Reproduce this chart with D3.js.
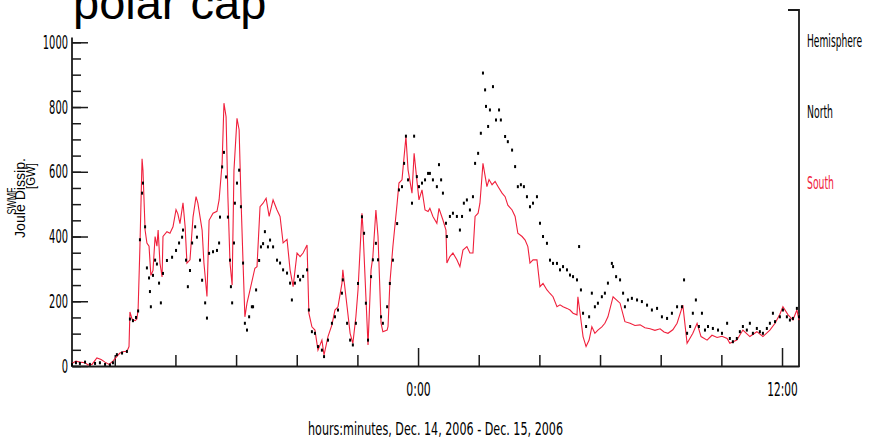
<!DOCTYPE html>
<html><head><meta charset="utf-8">
<script src="https://cdn.jsdelivr.net/npm/d3@7"></script>
<style>
html,body{margin:0;padding:0;background:#fff;}
svg{display:block;}
</style></head><body>
<svg id="chart" width="869" height="441"></svg>
<script>
// Hours since 2006-12-14 00:00 UT, and Joule dissipation [GW]
const southHours = [12.59,12.72,12.85,13.02,13.12,13.25,13.41,13.55,13.68,13.81,13.94,14.07,14.17,14.30,14.40,14.47,14.50,14.57,14.67,14.73,14.77,14.83,14.90,14.93,15.00,15.06,15.13,15.19,15.26,15.33,15.39,15.43,15.49,15.56,15.59,15.72,15.82,15.92,16.02,16.08,16.15,16.25,16.32,16.38,16.48,16.58,16.68,16.74,16.88,16.94,17.04,17.11,17.24,17.37,17.44,17.54,17.60,17.67,17.73,17.80,17.87,17.93,18.03,18.10,18.16,18.23,18.29,18.36,18.46,18.62,18.69,18.79,18.89,18.99,19.09,19.22,19.35,19.45,19.55,19.68,19.78,19.88,20.01,20.11,20.21,20.34,20.40,20.50,20.60,20.70,20.83,20.90,21.03,21.16,21.26,21.36,21.49,21.52,21.66,21.76,21.85,21.95,22.02,22.15,22.18,22.28,22.35,22.45,22.51,22.61,22.68,22.78,22.84,22.98,23.01,23.07,23.17,23.31,23.37,23.47,23.54,23.60,23.67,23.80,23.87,23.96,24.03,24.13,24.23,24.33,24.39,24.49,24.62,24.69,24.82,24.92,24.95,25.05,25.15,25.28,25.38,25.48,25.61,25.71,25.81,25.88,25.98,26.04,26.14,26.27,26.34,26.44,26.54,26.64,26.77,26.87,26.96,27.10,27.20,27.29,27.43,27.53,27.62,27.69,27.79,27.92,28.02,28.12,28.25,28.35,28.45,28.58,28.68,28.78,28.91,29.01,29.11,29.24,29.27,29.37,29.44,29.54,29.64,29.73,29.83,29.93,30.06,30.16,30.26,30.43,30.66,30.82,30.99,31.15,31.32,31.48,31.65,31.81,31.98,32.11,32.24,32.40,32.54,32.73,32.87,33.06,33.20,33.33,33.53,33.69,33.86,34.02,34.19,34.28,34.51,34.71,34.94,35.17,35.37,35.60,35.77,35.93,36.03,36.20,36.36,36.49,36.56];
const southGW = [8,15,12,10,3,5,25,20,12,5,15,30,40,45,45,60,167,145,140,145,175,370,640,605,420,380,370,280,295,400,370,420,318,275,400,415,410,430,483,470,440,504,430,318,328,460,523,503,420,318,215,450,472,478,513,627,812,770,523,318,250,605,765,730,523,318,152,194,235,302,307,492,503,518,462,513,482,462,380,391,297,245,349,338,349,374,163,121,111,49,80,34,91,127,173,183,255,297,183,101,70,152,235,472,430,214,65,297,338,482,400,132,106,111,122,255,369,503,565,575,647,708,606,534,657,575,513,544,482,477,487,462,441,487,451,420,318,338,349,328,307,358,369,349,349,462,472,503,626,554,576,560,570,554,534,523,497,482,462,410,400,389,369,318,328,328,245,255,235,224,214,183,189,183,178,173,163,158,214,142,91,60,80,121,101,111,121,132,152,214,194,137,132,125,127,118,115,110,115,105,101,112,132,188,70,101,132,91,80,95,88,92,85,70,80,111,91,106,91,111,132,160,183,158,142,173,142];
const northHours = [12.59,12.72,12.85,13.02,13.18,13.35,13.51,13.68,13.84,13.94,14.07,14.24,14.40,14.50,14.60,14.70,14.77,14.83,14.90,14.93,15.00,15.06,15.13,15.16,15.19,15.26,15.33,15.39,15.46,15.52,15.59,15.72,15.89,16.02,16.12,16.22,16.25,16.35,16.41,16.48,16.55,16.65,16.71,16.81,16.88,16.98,17.04,17.11,17.24,17.37,17.44,17.47,17.54,17.60,17.67,17.73,17.80,17.83,17.87,17.93,17.96,18.03,18.10,18.16,18.23,18.29,18.36,18.43,18.52,18.56,18.66,18.76,18.82,18.89,18.95,19.05,19.12,19.22,19.35,19.45,19.55,19.68,19.78,19.84,19.94,20.04,20.11,20.21,20.34,20.40,20.50,20.60,20.70,20.83,20.90,21.03,21.16,21.26,21.36,21.49,21.52,21.66,21.76,21.85,21.95,22.02,22.15,22.22,22.28,22.35,22.45,22.51,22.61,22.68,22.78,22.84,22.98,23.07,23.17,23.31,23.37,23.47,23.54,23.60,23.67,23.80,23.87,23.96,24.03,24.13,24.23,24.33,24.39,24.49,24.62,24.69,24.76,24.82,24.92,24.95,25.05,25.15,25.28,25.38,25.45,25.51,25.61,25.71,25.81,25.88,25.98,26.07,26.14,26.21,26.24,26.31,26.37,26.47,26.57,26.67,26.73,26.87,26.96,27.10,27.20,27.29,27.39,27.49,27.59,27.69,27.79,27.92,28.02,28.12,28.25,28.35,28.45,28.58,28.68,28.78,28.91,29.01,29.11,29.24,29.31,29.37,29.44,29.54,29.64,29.73,29.83,29.93,30.06,30.16,30.26,30.39,30.43,30.53,30.66,30.76,30.82,30.92,31.05,31.22,31.38,31.55,31.71,31.88,32.04,32.21,32.37,32.54,32.70,32.77,32.87,32.97,33.06,33.16,33.26,33.36,33.46,33.56,33.72,33.89,34.02,34.19,34.28,34.38,34.51,34.61,34.71,34.84,34.94,35.04,35.17,35.27,35.37,35.50,35.60,35.70,35.77,35.93,36.03,36.16,36.26,36.36,36.49,36.56];
const northGW = [5,10,8,12,5,8,10,5,3,10,35,40,45,145,140,150,170,390,534,565,430,303,272,230,183,280,327,315,256,195,286,326,336,357,380,398,420,327,245,295,380,430,398,327,265,195,148,348,353,357,380,460,615,660,584,460,327,245,195,380,503,565,605,492,318,132,111,152,183,183,235,326,368,378,415,368,389,368,327,318,297,287,256,204,256,277,266,277,297,173,106,101,60,49,29,80,132,152,173,225,266,132,80,65,132,255,461,410,194,80,276,328,379,328,152,132,183,255,327,440,544,554,626,710,575,503,710,585,554,565,575,595,595,575,554,622,575,534,441,400,462,472,462,420,462,503,513,482,523,626,657,719,905,853,802,740,791,863,760,791,760,709,693,667,616,554,560,554,523,492,503,523,441,400,379,327,317,317,297,307,297,281,276,266,369,235,163,122,152,225,183,194,214,225,256,317,307,276,266,225,183,204,209,204,199,188,173,178,152,147,163,183,183,266,101,122,163,204,122,163,111,122,116,111,101,132,85,75,85,106,122,111,132,101,116,106,101,116,132,163,137,152,173,152,142,147,178,152];
const yMajorTicks = [0,200,400,600,800,1000];
const yMinorStep = 50;
const xLabelHours = [0,12];
const legendLabels = ["Hemisphere","North","South"];
const titleText = "polar cap";
const yTitleLines = ["SWMF","Joule Dissip.","[GW]"];
const xTitleText = "hours:minutes, Dec. 14, 2006 - Dec. 15, 2006";

const day0 = Date.UTC(2006,11,14);
const toDate = h => new Date(day0 + h*3600000);
const south = southHours.map((h,i)=>({t:toDate(h), v:southGW[i]}));
const north = northHours.map((h,i)=>({t:toDate(h), v:northGW[i]}));

const svg = d3.select("#chart");
const L = 72, R = 799, B = 366;
const x = d3.scaleUtc().domain([toDate(12.59), toDate(36.56)]).range([L, R]);
const y = d3.scaleLinear().domain([0,1000]).range([B, 42.3]);

const narrow = "'Liberation Sans Narrow','Arial Narrow','DejaVu Sans Condensed',sans-serif";
const axisColor = "#1a1a1a";

// title
svg.append("text").attr("x",73).attr("y",19)
  .attr("font-family","'Liberation Sans',Arial,sans-serif").attr("font-size",47)
  .attr("fill","#000").text(titleText);

// y axis minor ticks
const gyMinor = svg.append("g").attr("transform",`translate(${L},0)`)
  .call(d3.axisLeft(y).tickValues(d3.range(0,1001,yMinorStep)).tickSize(-9).tickFormat(""));
gyMinor.select(".domain").remove();
// y axis major ticks
const gy = svg.append("g").attr("transform",`translate(${L},0)`)
  .call(d3.axisLeft(y).tickValues(yMajorTicks).tickSize(-16).tickPadding(4).tickFormat(d3.format("d")));
gy.select(".domain").remove();
gy.selectAll("text").attr("font-family",narrow).attr("font-size",19).attr("fill","#000")
  .attr("textLength",d=>String(d).length*6.3).attr("lengthAdjust","spacingAndGlyphs");
svg.selectAll(".tick line").attr("stroke",axisColor).attr("stroke-width",1.5);
svg.append("line").attr("x1",L).attr("x2",L).attr("y1",y(0)+1).attr("y2",y(1015))
  .attr("stroke",axisColor).attr("stroke-width",1.8);

// x axis
const gx = svg.append("g").attr("transform",`translate(0,${B})`)
  .call(d3.axisBottom(x).ticks(d3.utcHour.every(2)).tickSize(-11).tickSizeOuter(0).tickPadding(17)
    .tickFormat(d => xLabelHours.includes(d.getUTCHours()) ? d3.utcFormat("%-H:%M")(d) : ""));
gx.select(".domain").attr("stroke",axisColor).attr("stroke-width",1.8);
gx.selectAll(".tick line").attr("stroke",axisColor).attr("stroke-width",1.5)
  .attr("y2", d => xLabelHours.includes(d.getUTCHours()) ? -18 : -11);
gx.selectAll("text").attr("font-family",narrow).attr("font-size",19).attr("fill","#000")
  .filter(function(){return this.textContent.length>0;})
  .attr("textLength",function(){return this.textContent.length*6.1;}).attr("lengthAdjust","spacingAndGlyphs");

// right frame
svg.append("path").attr("d",`M${R-11},10H${R}V${B+1}`).attr("fill","none")
  .attr("stroke",axisColor).attr("stroke-width",1.8);

// x title
svg.append("text").attr("x",435.5).attr("y",435).attr("text-anchor","middle")
  .attr("font-family",narrow).attr("font-size",17).attr("fill","#000")
  .attr("textLength",255).attr("lengthAdjust","spacingAndGlyphs").text(xTitleText);

// y title (rotated, three overlapping lines as in the original)
const yt = svg.append("g").attr("font-family","'Liberation Sans',Arial,sans-serif").attr("fill","#000");
const ytPos = [[16,201,12,27],[25,198,14,80],[35,176,12,26]];
yTitleLines.forEach((s,i)=>{
  yt.append("text").attr("transform",`translate(${ytPos[i][0]},${ytPos[i][1]}) rotate(-90)`)
    .attr("text-anchor","middle").attr("font-size",ytPos[i][2])
    .attr("textLength",ytPos[i][3]).attr("lengthAdjust","spacingAndGlyphs").text(s);
});

// South line
svg.append("path").datum(south)
  .attr("d", d3.line().x(d=>x(d.t)).y(d=>y(d.v)))
  .attr("fill","none").attr("stroke","#f0203c").attr("stroke-width",1.1);

// North dots
svg.append("g").selectAll("rect").data(north).join("rect")
  .attr("x",d=>x(d.t)-1).attr("y",d=>y(d.v)-1.5).attr("width",2).attr("height",3).attr("fill","#000");

// legend
const legendColors = ["#000","#000","#f0203c"];
const legendLen = [55,26,27];
legendLabels.forEach((s,i)=>{
  svg.append("text").attr("x",807).attr("y",47+71*i)
    .attr("font-family",narrow).attr("font-size",18).attr("fill",legendColors[i])
    .attr("textLength",legendLen[i]).attr("lengthAdjust","spacingAndGlyphs").text(s);
});
</script>
</body></html>
